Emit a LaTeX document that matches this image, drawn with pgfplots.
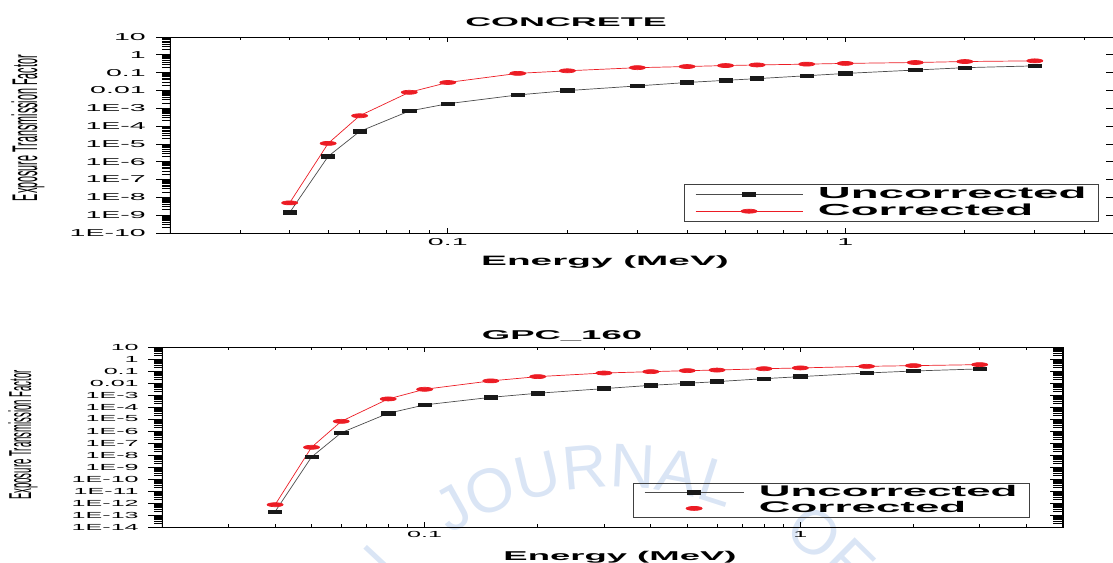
\documentclass[border=0pt]{standalone}
\usepackage{pgfplots}
\pgfplotsset{compat=1.18}
\usepackage{fontspec}
\setmainfont{Liberation Sans}
\usetikzlibrary{decorations.text}
\definecolor{cred}{RGB}{236,28,36}
\definecolor{wm}{RGB}{218,229,245}
\newcommand{\st}[2]{\scalebox{2.85}[1]{\fontsize{#1}{#1}\selectfont #2}}
\newcommand{\stb}[2]{\scalebox{2.85}[1]{\fontsize{#1}{#1}\selectfont\bfseries #2}}
\newcommand{\ya}[1]{\st{5}{#1}}
\newcommand{\yb}[1]{\st{4.4}{#1}}
\pgfplotstableread{
x unc cor
0.04 1.4e-9 4.9e-9
0.05 2e-6 1.07e-5
0.06 5e-5 3.8e-4
0.08 7e-4 7.9e-3
0.1 1.8e-3 0.028
0.15 5.6e-3 0.091
0.2 9.8e-3 0.127
0.3 0.018 0.19
0.4 0.028 0.22
0.5 0.037 0.25
0.6 0.046 0.27
0.8 0.067 0.30
1 0.09 0.33
1.5 0.14 0.37
2 0.19 0.42
3 0.24 0.46
}\concrete
\pgfplotstableread{
x unc cor
0.04 1.9e-13 7.2e-13
0.05 6.8e-9 4.4e-8
0.06 7.2e-7 6.4e-6
0.08 3e-5 4.7e-4
0.1 1.5e-4 3e-3
0.15 6.4e-4 0.015
0.2 1.4e-3 0.034
0.3 3.4e-3 0.068
0.4 6.4e-3 0.088
0.5 9.4e-3 0.107
0.6 0.013 0.12
0.8 0.023 0.155
1 0.034 0.18
1.5 0.068 0.245
2 0.1 0.28
3 0.15 0.34
}\gpc
\tikzset{wmk/.style={decorate, decoration={text along path, text={|\fontsize{31}{31}\selectfont|#1}, text color=wm, text align=center}}}
\pgfplotsset{
  every axis/.append style={scale only axis, xmin=0.02, xmax=5,
    axis line style={black, line width=0.4pt}, tick style={black, line width=0.4pt}},
  uncs/.style={black!70, line width=0.35pt, mark=square*, mark size=0.9pt,
    mark options={xscale=3.7, solid, fill=black!90, draw=black!90}},
  cors/.style={cred, line width=0.35pt, mark=*, mark size=1pt,
    mark options={xscale=4, solid, fill=cred, draw=cred}},
  mkleg/.style={legend image code/.code={\draw[##1] plot coordinates {(24.75pt,0pt)};}},
  minA/.style={minor ytick={2e-10,3e-10,4e-10,5e-10,6e-10,7e-10,8e-10,9e-10,
    2e-9,3e-9,4e-9,5e-9,6e-9,7e-9,8e-9,9e-9,
    2e-8,3e-8,4e-8,5e-8,6e-8,7e-8,8e-8,9e-8,
    2e-7,3e-7,4e-7,5e-7,6e-7,7e-7,8e-7,9e-7,
    2e-6,3e-6,4e-6,5e-6,6e-6,7e-6,8e-6,9e-6,
    2e-5,3e-5,4e-5,5e-5,6e-5,7e-5,8e-5,9e-5,
    2e-4,3e-4,4e-4,5e-4,6e-4,7e-4,8e-4,9e-4,
    2e-3,3e-3,4e-3,5e-3,6e-3,7e-3,8e-3,9e-3,
    2e-2,3e-2,4e-2,5e-2,6e-2,7e-2,8e-2,9e-2,
    2e-1,3e-1,4e-1,5e-1,6e-1,7e-1,8e-1,9e-1,
    2,3,4,5,6,7,8,9}},
  minB/.style={minor ytick={2e-14,3e-14,4e-14,5e-14,6e-14,7e-14,8e-14,9e-14,
    2e-13,3e-13,4e-13,5e-13,6e-13,7e-13,8e-13,9e-13,
    2e-12,3e-12,4e-12,5e-12,6e-12,7e-12,8e-12,9e-12,
    2e-11,3e-11,4e-11,5e-11,6e-11,7e-11,8e-11,9e-11,
    2e-10,3e-10,4e-10,5e-10,6e-10,7e-10,8e-10,9e-10,
    2e-9,3e-9,4e-9,5e-9,6e-9,7e-9,8e-9,9e-9,
    2e-8,3e-8,4e-8,5e-8,6e-8,7e-8,8e-8,9e-8,
    2e-7,3e-7,4e-7,5e-7,6e-7,7e-7,8e-7,9e-7,
    2e-6,3e-6,4e-6,5e-6,6e-6,7e-6,8e-6,9e-6,
    2e-5,3e-5,4e-5,5e-5,6e-5,7e-5,8e-5,9e-5,
    2e-4,3e-4,4e-4,5e-4,6e-4,7e-4,8e-4,9e-4,
    2e-3,3e-3,4e-3,5e-3,6e-3,7e-3,8e-3,9e-3,
    2e-2,3e-2,4e-2,5e-2,6e-2,7e-2,8e-2,9e-2,
    2e-1,3e-1,4e-1,5e-1,6e-1,7e-1,8e-1,9e-1,
    2,3,4,5,6,7,8,9}},
}
\begin{document}
\begin{tikzpicture}
\useasboundingbox (0,0) rectangle (556.5pt,-281pt);
\clip (0,0) rectangle (556.5pt,-281pt);
% watermark
\path[wmk={N}] (160.67pt,-346.56pt) arc[start angle=160, end angle=114, radius=156.25pt];
\path[wmk={JOURNAL}] (187.81pt,-299.56pt) arc[start angle=140, end angle=51, radius=156.25pt];
\path[wmk={OF}] (347.94pt,-249.08pt) arc[start angle=75, end angle=24.6, radius=156.25pt];
\path[wmk={E}] (407.94pt,-280.31pt) arc[start angle=50, end angle=14, radius=156.25pt];
% ---------- TOP: CONCRETE ----------
\begin{loglogaxis}[at={(85pt,-116.5pt)}, anchor=south west, width=476.5pt, height=98pt,
  ymin=1e-10, ymax=10, ytick=\empty,
  xtick={0.1,1}, xticklabels={\ya{0.1},\ya{1}},
  minor xtick={0.02,0.03,0.04,0.05,0.06,0.07,0.08,0.09,0.2,0.3,0.4,0.5,0.6,0.7,0.8,0.9,2,3,4,5},
  tick align=inside, major tick length=2.5pt, minor tick length=1.5pt,
  xticklabel style={inner sep=0pt, yshift=-2.5pt},
  legend image code/.code={\draw[mark repeat=2,mark phase=2,#1] plot coordinates {(0pt,0pt) (26.75pt,0pt) (53.5pt,0pt)};},
  legend style={at={(0.9748,0.0561)}, anchor=south east, draw=black!75, line width=0.5pt, fill=white,
    inner xsep=5.5pt, inner ysep=1pt, row sep=0pt, nodes={inner sep=0.5pt}, cells={anchor=west},
    /tikz/every odd column/.append style={column sep=7pt}},
]
\addplot[uncs] table[x=x,y=unc] {\concrete};
\addlegendentry{\stb{8}{Uncorrected}}
\addplot[cors] table[x=x,y=cor] {\concrete};
\addlegendentry{\stb{8}{Corrected}}
\end{loglogaxis}
\begin{loglogaxis}[at={(85pt,-116.5pt)}, anchor=south west, width=476.5pt, height=98pt,
  ymin=1e-10, ymax=10, xtick=\empty,
  ytick={1e-10,1e-9,1e-8,1e-7,1e-6,1e-5,1e-4,1e-3,1e-2,1e-1,1,10},
  yticklabels={\ya{1E-10},\ya{1E-9},\ya{1E-8},\ya{1E-7},\ya{1E-6},\ya{1E-5},\ya{1E-4},\ya{1E-3},\ya{0.01},\ya{0.1},\ya{1},\ya{10}},
  minA, ytick pos=left, tick align=outside,
  major tick length=7pt, minor tick length=4pt,
  yticklabel style={inner sep=0pt, xshift=-5pt}]
\draw[line width=1.5pt] (rel axis cs:0,0) -- (rel axis cs:0,1);
\end{loglogaxis}
\begin{loglogaxis}[at={(85pt,-116.5pt)}, anchor=south west, width=476.5pt, height=98pt,
  ymin=1e-10, ymax=10, xtick=\empty,
  ytick={1e-10,1e-9,1e-8,1e-7,1e-6,1e-5,1e-4,1e-3,1e-2,1e-1,1,10}, yticklabels={},
  ytick pos=right, tick align=inside, major tick length=8.5pt, minor tick length=0pt]
\end{loglogaxis}
% ---------- BOTTOM: GPC_160 ----------
\begin{loglogaxis}[at={(81pt,-263.5pt)}, anchor=south west, width=450.5pt, height=90pt,
  ymin=1e-14, ymax=10, ytick=\empty,
  xtick={0.1,1}, xticklabels={\yb{0.1},\yb{1}},
  minor xtick={0.02,0.03,0.04,0.05,0.06,0.07,0.08,0.09,0.2,0.3,0.4,0.5,0.6,0.7,0.8,0.9,2,3,4,5},
  tick align=inside, major tick length=2.5pt, minor tick length=1.5pt,
  xticklabel style={inner sep=0pt, yshift=-2pt},
  legend image code/.code={\draw[mark repeat=2,mark phase=2,#1] plot coordinates {(0pt,0pt) (24.75pt,0pt) (49.5pt,0pt)};},
  legend style={at={(0.9634,0.05)}, anchor=south east, draw=black!75, line width=0.5pt, fill=none,
    inner xsep=5.5pt, inner ysep=0.5pt, row sep=0pt, nodes={inner sep=0.5pt}, cells={anchor=west},
    /tikz/every odd column/.append style={column sep=7pt}},
]
\addplot[uncs] table[x=x,y=unc] {\gpc};
\addlegendentry{\stb{7.7}{Uncorrected}}
\addplot[cors, mkleg] table[x=x,y=cor] {\gpc};
\addlegendentry{\stb{7.7}{Corrected}}
\end{loglogaxis}
\begin{loglogaxis}[at={(81pt,-263.5pt)}, anchor=south west, width=450.5pt, height=90pt,
  ymin=1e-14, ymax=10, xtick=\empty,
  ytick={1e-14,1e-13,1e-12,1e-11,1e-10,1e-9,1e-8,1e-7,1e-6,1e-5,1e-4,1e-3,1e-2,1e-1,1,10},
  yticklabels={\yb{1E-14},\yb{1E-13},\yb{1E-12},\yb{1E-11},\yb{1E-10},\yb{1E-9},\yb{1E-8},\yb{1E-7},\yb{1E-6},\yb{1E-5},\yb{1E-4},\yb{1E-3},\yb{0.01},\yb{0.1},\yb{1},\yb{10}},
  minB, ytick pos=left, tick align=outside,
  major tick length=7pt, minor tick length=4pt,
  yticklabel style={inner sep=0pt, xshift=-4.5pt}]
\draw[line width=1.5pt] (rel axis cs:0,0) -- (rel axis cs:0,1);
\end{loglogaxis}
\begin{loglogaxis}[at={(81pt,-263.5pt)}, anchor=south west, width=450.5pt, height=90pt,
  ymin=1e-14, ymax=10, xtick=\empty,
  ytick={1e-14,1e-13,1e-12,1e-11,1e-10,1e-9,1e-8,1e-7,1e-6,1e-5,1e-4,1e-3,1e-2,1e-1,1,10}, yticklabels={},
  minB, ytick pos=right, tick align=inside,
  major tick length=6.5pt, minor tick length=5pt]
\draw[line width=1.5pt] (rel axis cs:1,0) -- (rel axis cs:1,1);
\end{loglogaxis}
% ---------- texts ----------
\node[anchor=base, inner sep=0pt] at (283pt,-13pt) {\stb{6.3}{CONCRETE}};
\node[anchor=base, inner sep=0pt] at (281pt,-169.6pt) {\stb{6.4}{GPC\_160}};
\node[anchor=base, inner sep=0pt] at (302.5pt,-132.5pt) {\stb{6.8}{Energy (MeV)}};
\node[anchor=base, inner sep=0pt] at (310pt,-280pt) {\stb{6.4}{Energy (MeV)}};
\node[inner sep=0pt] at (14pt,-64pt) {\rotatebox{90}{\scalebox{1}[3.3]{\fontsize{5.4}{5.4}\selectfont Exposure Transmission Factor}}};
\node[inner sep=0pt] at (11.5pt,-217.5pt) {\rotatebox{90}{\scalebox{1}[3.3]{\fontsize{4.8}{4.8}\selectfont Exposure Transmission Factor}}};
\end{tikzpicture}
\end{document}
